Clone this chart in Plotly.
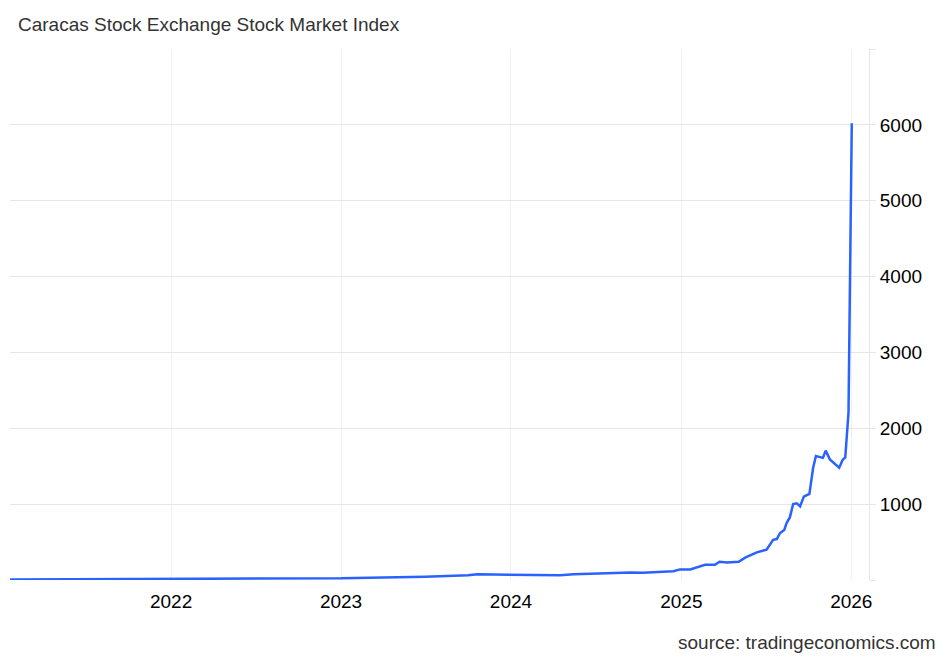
import plotly.graph_objects as go

# Caracas Stock Exchange index
dates = [
    '2021-01-20', '2021-03-01', '2021-05-01', '2021-07-01', '2021-09-01', '2021-11-01',
    '2022-01-01', '2022-03-01', '2022-05-01', '2022-07-01', '2022-09-01', '2022-11-01',
    '2023-01-01', '2023-02-01', '2023-03-01', '2023-04-01', '2023-05-01', '2023-06-01',
    '2023-07-01', '2023-08-01', '2023-09-01', '2023-10-01', '2023-10-21', '2023-11-15',
    '2023-12-15', '2024-01-15', '2024-02-15', '2024-03-15', '2024-04-15', '2024-05-15',
    '2024-06-15', '2024-07-15', '2024-08-15', '2024-09-15', '2024-10-10', '2024-11-15',
    '2024-12-15', '2024-12-29', '2025-01-20', '2025-02-21', '2025-03-14', '2025-03-24',
    '2025-04-09', '2025-05-04', '2025-05-18', '2025-06-12', '2025-07-03', '2025-07-17',
    '2025-07-25', '2025-08-01', '2025-08-10', '2025-08-15', '2025-08-22', '2025-08-29',
    '2025-09-06', '2025-09-13', '2025-09-21', '2025-10-03', '2025-10-11', '2025-10-17',
    '2025-11-01', '2025-11-07', '2025-11-16', '2025-12-06', '2025-12-13', '2025-12-19',
    '2025-12-26', '2026-01-02',
]
values = [
    8, 9, 10, 10, 10, 11,
    11, 11, 12, 12, 13, 16,
    22, 28, 33, 35, 38, 40,
    44, 48, 55, 62, 75, 72,
    68, 67, 62, 58, 62, 75,
    82, 90, 96, 100, 95, 110,
    115, 140, 140, 200, 200, 240,
    230, 240, 295, 365, 400, 530,
    540, 620, 660, 750, 825, 1000,
    1010, 970, 1100, 1135, 1480, 1635,
    1610, 1705, 1590, 1480, 1580, 1615,
    2210, 6020,
]

y_ticks = [0, 1000, 2000, 3000, 4000, 5000, 6000, 7000]
y_labels = ['', '1000', '2000', '3000', '4000', '5000', '6000', '']
x_ticks = ['2022-01-01', '2023-01-01', '2024-01-01', '2025-01-01', '2026-01-01']
x_labels = ['2022', '2023', '2024', '2025', '2026']

fig = go.Figure()
fig.add_trace(go.Scatter(
    x=dates, y=values, mode='lines',
    line=dict(color='#2962ff', width=2.5),
    hoverinfo='x+y'
))

# page body has an 8px margin, so the figure is a bit smaller than the window
fig.update_layout(
    width=940, height=648,
    margin=dict(l=2, r=79, t=41, b=76),
    paper_bgcolor='white', plot_bgcolor='white',
    font=dict(family='Liberation Sans, Arial, sans-serif', size=19, color='black'),
    showlegend=False,
    title=dict(text='Caracas Stock Exchange Stock Market Index',
               x=0.0106, xanchor='left', y=0.974, yanchor='middle',
               font=dict(size=19, color='#333333')),
    xaxis=dict(
        range=['2021-01-20', '2026-02-08'],
        tickvals=x_ticks, ticktext=x_labels,
        showgrid=True, gridcolor='#eef2f7', gridwidth=1,
        showline=False, zeroline=False, ticks='',
        ticklabelstandoff=8,
    ),
    yaxis=dict(
        side='right', range=[0, 7000],
        tickvals=y_ticks, ticktext=y_labels,
        showgrid=True, gridcolor='#e6e6e6', gridwidth=1,
        showline=True, linecolor='#e6e6e6', linewidth=1,
        ticks='outside', ticklen=6, tickcolor='#e6e6e6',
        ticklabelstandoff=0,
        zeroline=False,
    ),
    annotations=[dict(
        text='source: tradingeconomics.com', xref='paper', yref='paper',
        x=1.0805, y=-0.1168, xanchor='right', yanchor='middle', showarrow=False,
        font=dict(size=19, color='#333333')
    )],
)

fig.write_html('out.html')
